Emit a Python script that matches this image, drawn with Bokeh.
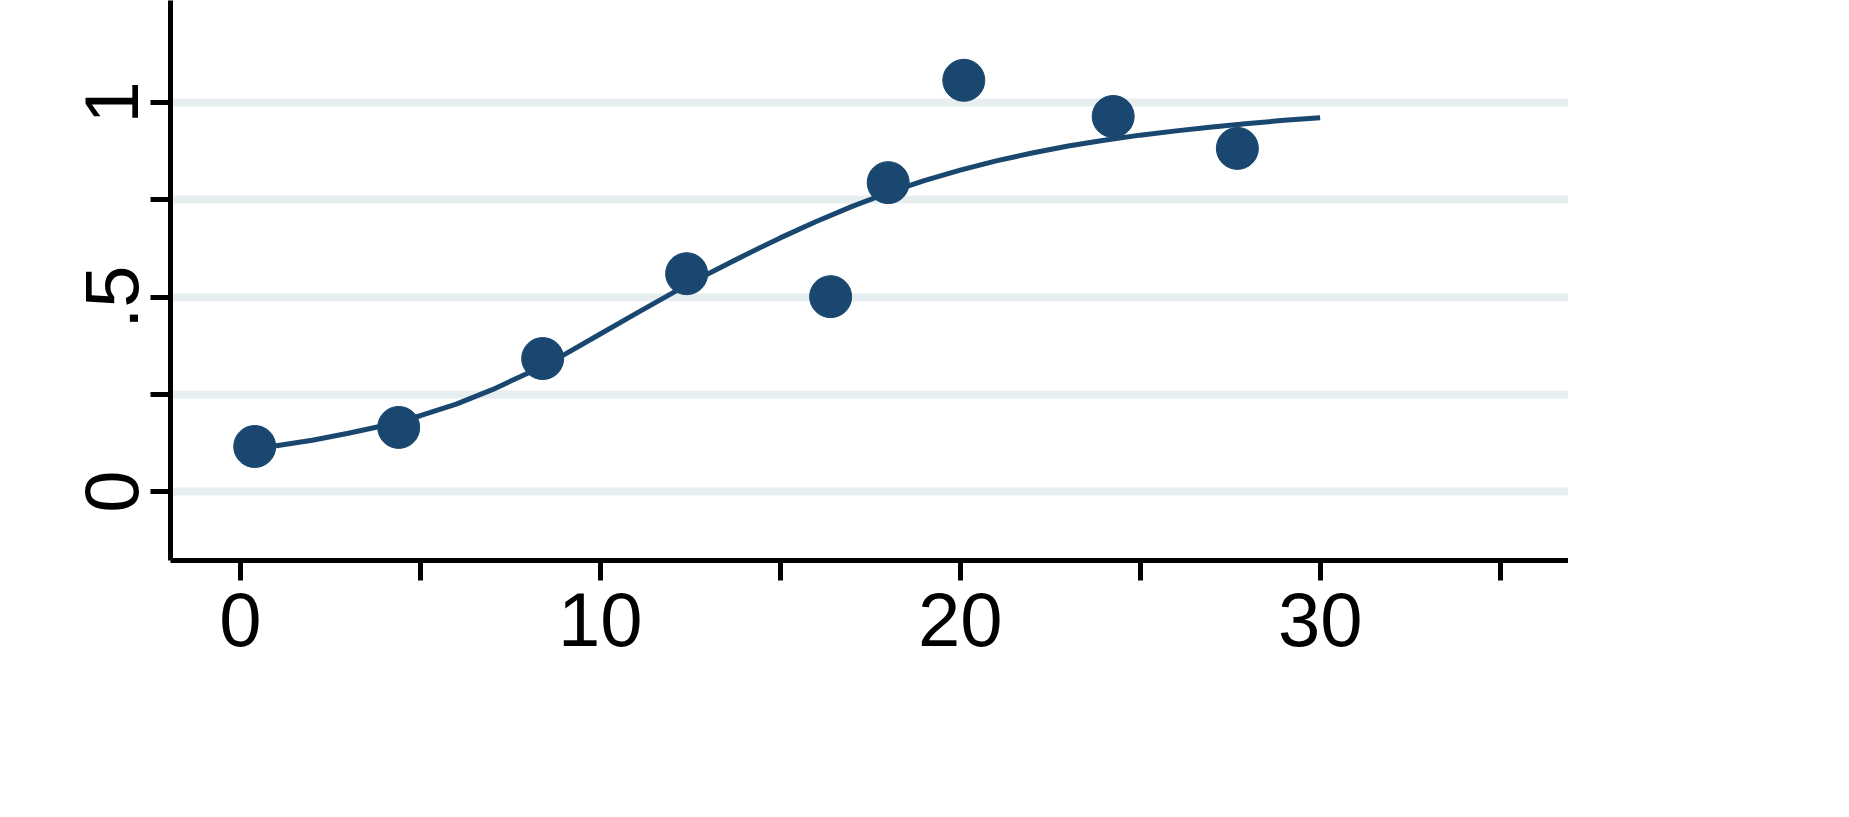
from bokeh.plotting import figure
from bokeh.models import Range1d, FixedTicker
from bokeh.embed import file_html
from bokeh.resources import INLINE

# observed points
obs_x = [0.4, 4.4, 8.4, 12.4, 16.4, 18.0, 20.1, 24.25, 27.7]
obs_y = [0.116, 0.165, 0.342, 0.560, 0.501, 0.794, 1.057, 0.964, 0.882]

# fitted curve
fit_x = [0.4, 1, 2, 3, 4, 5, 6, 7, 8, 9, 10, 11, 12, 13, 14, 15, 16, 17, 18,
         19, 20, 21, 22, 23, 24, 25, 26, 27, 28, 29, 30]
fit_y = [0.110, 0.118, 0.132, 0.150, 0.170, 0.195, 0.225, 0.262, 0.305, 0.352,
         0.405, 0.458, 0.510, 0.560, 0.607, 0.652, 0.694, 0.733, 0.768, 0.799,
         0.826, 0.850, 0.870, 0.888, 0.903, 0.916, 0.927, 0.937, 0.946, 0.954, 0.961]

x_ticks = [0, 5, 10, 15, 20, 25, 30, 35]
y_ticks = [0, 0.25, 0.5, 0.75, 1]

navy = "#1a476f"

p = figure(width=1568, height=690, output_backend="svg", toolbar_location=None,
           x_range=Range1d(-1.94, 36.9), y_range=Range1d(-0.177, 1.262),
           min_border_left=170, min_border_bottom=130, min_border_top=0, min_border_right=0)
p.outline_line_color = None
p.background_fill_color = "white"

p.xgrid.visible = False
p.ygrid.ticker = FixedTicker(ticks=y_ticks)
p.ygrid.grid_line_color = "#e6eef0"
p.ygrid.grid_line_width = 8

for ax in (p.xaxis[0], p.yaxis[0]):
    ax.axis_line_width = 5
    ax.axis_line_color = "black"
    ax.major_tick_line_width = 5
    ax.major_tick_out = 20
    ax.major_tick_in = 0
    ax.minor_tick_line_color = None
    ax.major_label_text_font = "Liberation Sans"
    ax.major_label_text_font_size = "76px"
    ax.major_label_text_color = "black"
    ax.major_label_standoff = 12

p.xaxis.ticker = FixedTicker(ticks=x_ticks)
p.xaxis.major_label_overrides = {5: "", 15: "", 25: "", 35: ""}
p.yaxis.ticker = FixedTicker(ticks=y_ticks)
p.yaxis.major_label_overrides = {0: "0", 0.25: "", 0.5: ".5", 0.75: "", 1: "1"}
p.yaxis.major_label_orientation = "vertical"

p.line(fit_x, fit_y, line_color=navy, line_width=5)
p.scatter(obs_x, obs_y, size=42, fill_color=navy, line_color=navy)

open("out.html", "w").write(file_html(p, INLINE))
